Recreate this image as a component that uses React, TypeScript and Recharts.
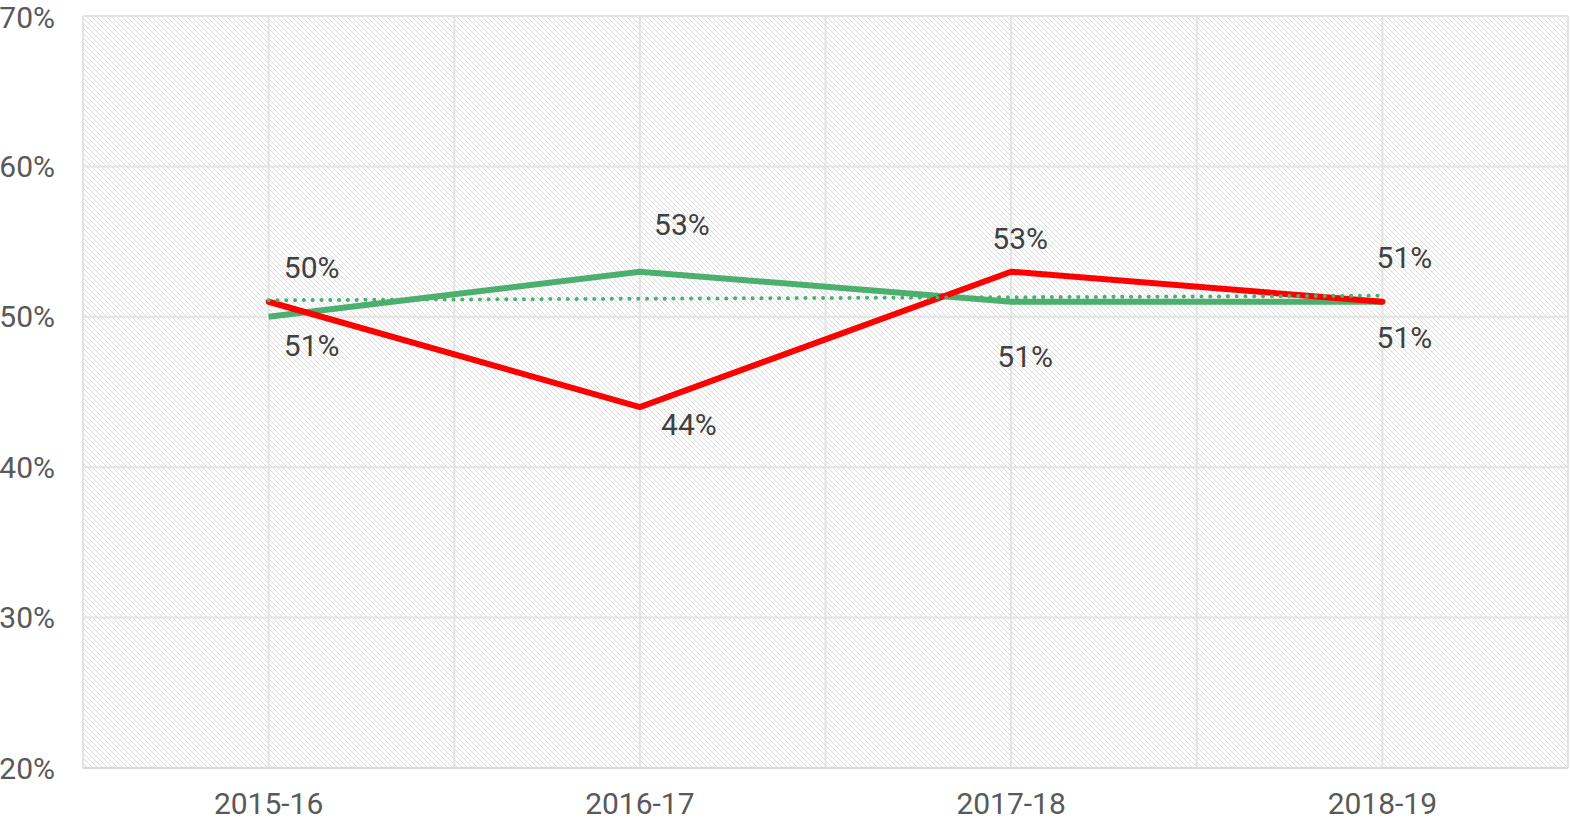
import React from "react";
import { LineChart, Line, XAxis, YAxis, CartesianGrid, LabelList } from "recharts";

const years = ["2015-16", "2016-17", "2017-18", "2018-19"];
const greenSeries = [50, 53, 51, 51];
const redSeries = [51, 44, 53, 51];
const greenTrend = [51.1, 51.2, 51.3, 51.4];
const yTicks = [20, 30, 40, 50, 60, 70];

const data = years.map((year, i) => ({
  year,
  green: greenSeries[i],
  red: redSeries[i],
  trend: greenTrend[i],
}));

// where each value label sits relative to its point
const greenNudge = [[43, -49], [42, -47], [14, 55], [22, -44]];
const redNudge = [[43, 44], [49, 17], [9, -33], [22, 36]];

const font = "Roboto, 'Open Sans', sans-serif";

const makeLabel = (nudge: number[][]) => (props: any) => {
  const { x, y, value, index } = props;
  const [dx, dy] = nudge[index] || [0, 0];
  return (
    <text
      x={x + dx}
      y={y + dy}
      textAnchor="middle"
      dominantBaseline="central"
      fill="#404040"
      fontSize={30}
      fontFamily={font}
    >
      {Math.round(value)}%
    </text>
  );
};

export default function App() {
  return (
    <div style={{ position: "absolute", left: 0, top: 0 }}>
      <svg width={0} height={0} style={{ position: "absolute" }}>
        <defs>
          <pattern id="hatch" patternUnits="userSpaceOnUse" width={5} height={5}>
            <rect width={5} height={5} fill="#ffffff" />
            <path d="M-1,-1 L6,6 M-1,4 L1,6 M4,-1 L6,1" stroke="#dcdcdc" strokeWidth={1} />
          </pattern>
        </defs>
      </svg>
      <LineChart
        width={1570}
        height={825}
        data={data}
        margin={{ top: 16, right: 2, bottom: 0, left: 0 }}
      >
        <CartesianGrid
          fill="url(#hatch)"
          stroke="#e3e3e3"
          strokeWidth={2}
          verticalCoordinatesGenerator={({ offset }: any) =>
            Array.from({ length: 9 }, (_, k) => offset.left + (offset.width * k) / 8)
          }
        />
        <XAxis
          dataKey="year"
          scale="band"
          height={57}
          tickSize={0}
          tickMargin={25}
          axisLine={{ stroke: "#d9d9d9", strokeWidth: 2 }}
          tick={{ fill: "#595959", fontSize: 30, fontFamily: font }}
        />
        <YAxis
          width={83}
          domain={[20, 70]}
          ticks={yTicks}
          tickFormatter={(v: number) => `${v}%`}
          tickSize={0}
          tickMargin={28}
          axisLine={false}
          tick={{ fill: "#595959", fontSize: 30, fontFamily: font }}
        />
        <Line
          dataKey="green"
          stroke="#4caf6e"
          strokeWidth={6}
          dot={false}
          isAnimationActive={false}
        >
          <LabelList dataKey="green" content={makeLabel(greenNudge)} />
        </Line>
        <Line
          dataKey="red"
          stroke="#ff0000"
          strokeWidth={6}
          strokeLinecap="round"
          dot={false}
          isAnimationActive={false}
        >
          <LabelList dataKey="red" content={makeLabel(redNudge)} />
        </Line>
        <Line
          dataKey="trend"
          stroke="#4caf6e"
          strokeWidth={4}
          strokeLinecap="round"
          strokeDasharray="0.1 8.7"
          dot={false}
          isAnimationActive={false}
        />
      </LineChart>
    </div>
  );
}
